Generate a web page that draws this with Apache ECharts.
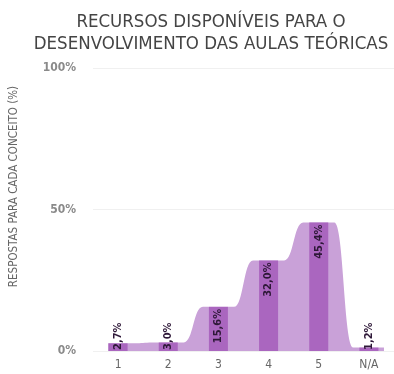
<!DOCTYPE html>
<html><head><meta charset="utf-8">
<script src="https://cdn.jsdelivr.net/npm/echarts@6/dist/echarts.min.js"></script>
<style>html,body{margin:0;padding:0;background:#fff}#c{width:394px;height:374px}</style>
</head><body><div id="c"></div>
<script>
const titleText = 'RECURSOS DISPONÍVEIS PARA O\nDESENVOLVIMENTO DAS AULAS TEÓRICAS';
const yAxisName = 'RESPOSTAS PARA CADA CONCEITO (%)';
const categories = ['1', '2', '3', '4', '5', 'N/A'];
const values = [2.7, 3.0, 15.6, 32.0, 45.4, 1.2];
const yTicks = [0, 50, 100];

// Step-like area outline built from the values: each category contributes a flat plateau
const half = 0.31;
const areaData = [];
values.forEach((v, i) => {
  const l = i === 0 ? i - 0.2 : i - half;
  const r = i === values.length - 1 ? i + 0.3 : i + half;
  areaData.push([l, v], [r, v]);
});

const fmt = v => v.toFixed(1).replace('.', ',') + '%';
const FONT = 'DejaVu Sans Condensed';

const chart = echarts.init(document.getElementById('c'));
chart.setOption({
  animation: false,
  title: {
    text: titleText, left: 206, top: 6, textAlign: 'center',
    textStyle: { fontFamily: FONT, fontSize: 18.5, fontWeight: 'normal', color: '#444', lineHeight: 22 }
  },
  grid: { left: 90, right: -8, top: 68, bottom: 23 },
  xAxis: [
    { type: 'category', data: categories, boundaryGap: true,
      axisLine: { show: false }, axisTick: { show: false },
      axisLabel: { fontFamily: FONT, fontSize: 12, color: '#666', margin: 8 } },
    { type: 'value', min: -0.5, max: 5.5, show: false }
  ],
  yAxis: {
    type: 'value', min: 0, max: 100, interval: 50,
    name: yAxisName, nameLocation: 'middle', nameGap: 73,
    nameTextStyle: { fontFamily: FONT, fontSize: 11.5, color: '#666', padding: [0, 0, 0, 46] },
    axisLine: { show: false }, axisTick: { show: false },
    axisLabel: { fontFamily: FONT, fontSize: 12, fontWeight: 'bold', color: '#8a8a8a', margin: 17,
      formatter: v => yTicks.includes(v) ? v + '%' : '' },
    splitLine: { lineStyle: { color: '#f0f0f0', type: 'solid' } }
  },
  series: [
    { type: 'line', xAxisIndex: 1, data: areaData, smooth: 0.5, smoothMonotone: 'x',
      symbol: 'none', lineStyle: { width: 0 }, areaStyle: { color: '#c9a1d8', opacity: 1 }, z: 1 },
    { type: 'bar', xAxisIndex: 0, barWidth: 19, z: 2,
      itemStyle: { color: '#aa66bf' },
      label: {
        show: true, rotate: 90, fontFamily: FONT, fontSize: 11, fontWeight: 'bold', color: '#2e1838',
        formatter: p => fmt(p.value)
      },
      // tall bars anchor their label at the top, short ones at the base
      data: values.map(v => v > 10
        ? { value: v, label: { position: 'insideTop', align: 'right', verticalAlign: 'middle', distance: 2 } }
        : { value: v, label: { position: 'insideBottom', align: 'left', verticalAlign: 'middle', distance: 1 } })
    }
  ]
});
</script></body></html>
